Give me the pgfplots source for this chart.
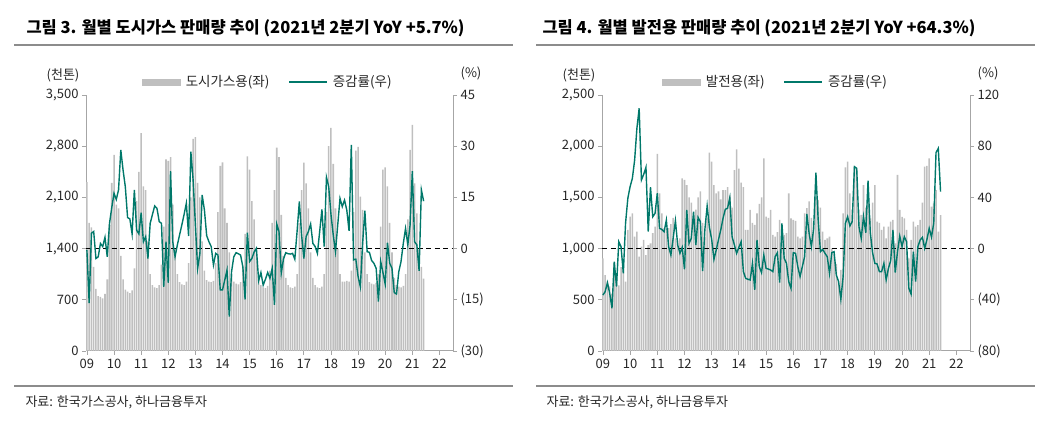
\documentclass[border=0pt]{standalone}
\usepackage{pgfplots}
\pgfplotsset{compat=1.18}
\usepackage{pgfplotstable}
\usepackage{fontspec}
\setmainfont{Noto Sans CJK KR}
\definecolor{barg}{HTML}{BFBFBF}
\definecolor{teal2}{HTML}{00786A}
\definecolor{axg}{HTML}{A6A6A6}
\definecolor{txt}{HTML}{262626}
\definecolor{rule}{HTML}{8C8C8C}

\pgfplotstableread{
i bar yoy
0 2310 -0.4
1 1750 -16
2 1690 4.5
3 1150 5
4 850 -2.9
5 750 -2.4
6 740 1.5
7 720 0.6
8 780 3.3
9 980 -2.4
10 1720 7.4
11 2300 12
12 2680 16.2
13 2000 14.4
14 1950 17.2
15 1300 28.9
16 980 23
17 840 18.1
18 810 9.1
19 790 8.7
20 830 4.3
21 1130 17.2
22 2050 5.4
23 2450 4.3
24 2980 10.5
25 2250 2.0
26 2200 3.5
27 1500 -2.9
28 1050 7.4
29 900 10
30 870 12.5
31 860 11.8
32 900 7.9
33 1180 7.4
34 1700 -11.2
35 2620 2.0
36 2600 -10.0
37 2650 22.7
38 2000 2.0
39 1400 -2.4
40 1050 1
41 940 4
42 910 6.9
43 900 10
44 950 13.3
45 1200 3.7
46 2100 28.4
47 2900 20.1
48 2925 7
49 2300 -5.8
50 2100 -1.4
51 1500 15.7
52 1100 11.3
53 970 3.8
54 950 2
55 940 0.6
56 960 -4.8
57 1200 -1.4
58 1900 -1.9
59 2530 -12.1
60 2580 -12.1
61 1950 -9.2
62 1750 -6.3
63 1350 -19.9
64 1050 -6.8
65 950 -2.4
66 920 -1.2
67 910 -1.5
68 940 -1.9
69 1150 -5.3
70 1600 -14.9
71 2660 4.7
72 2480 -3.8
73 2050 -2.9
74 1800 -1
75 1350 0.1
76 1000 -9.4
77 900 -7.0
78 870 -10.7
79 860 -9
80 890 -7.0
81 1100 -8.7
82 1750 -5.8
83 2200 -16.5
84 2780 7.2
85 2650 5.0
86 1860 -7.2
87 1300 -3
88 1000 -1.2
89 900 -1.5
90 870 -1.6
91 860 -1.4
92 880 -3.1
93 1050 5
94 1750 13.8
95 2200 4
96 2575 -2.9
97 2290 3.5
98 1950 5
99 1350 7.2
100 1000 1.5
101 900 0.6
102 870 -1.4
103 860 5
104 880 11.5
105 1050 0.6
106 1900 20.9
107 2800 18.1
108 3050 10
109 2560 4
110 1950 -0.9
111 1400 7
112 1050 14.7
113 950 12.3
114 950 14.2
115 960 11.3
116 950 5.2
117 1100 30.4
118 1900 -3.3
119 2740 -3.1
120 2790 -8.2
121 2110 -11.2
122 1930 1.5
123 1350 11.1
124 1050 -0.9
125 940 -1.1
126 920 -3.5
127 910 -4.3
128 930 -5.8
129 1050 -15.5
130 1700 -3.8
131 2480 -7
132 2510 -10.4
133 2250 1.7
134 1750 -4.3
135 1350 -5.8
136 1000 -12.9
137 900 -13.3
138 880 -6.8
139 870 -3.8
140 890 1.5
141 1050 5.9
142 1800 1.1
143 2750 6.9
144 3090 22.7
145 2290 2.0
146 1880 1.1
147 1400 -6.5
148 1150 17.2
149 990 13.9
}\gasdata

\pgfplotstableread{
i bar yoy
0 905 -36.3
1 742 -33.6
2 680 -26.6
3 630 -34.9
4 560 -46.7
5 856 -10.2
6 760 -29.7
7 640 5.4
8 820 1.5
9 856 -19.3
10 677 20
11 1182 39.3
12 1312 48.4
13 1345 54.9
14 1117 69.2
15 1166 94.0
16 921 109.6
17 1020 53.6
18 1085 58
19 937 63.5
20 1035 13.2
21 1052 47.9
22 1150 24.9
23 1214 27.5
24 1924 43.2
25 1540 15.8
26 1345 15.0
27 1200 13.2
28 1195 22.3
29 1200 1.5
30 1240 -5.0
31 1300 8
32 1100 21.8
33 1080 2.8
34 1100 -3.7
35 1686 1.0
36 1670 -16.2
37 1620 30.2
38 1500 4.1
39 1450 8.0
40 1300 28.8
41 1380 2.8
42 1500 24.4
43 1560 21.0
44 1250 -17.5
45 1117 15
46 1300 33.3
47 1937 16.6
48 1850 7.2
49 1620 -8.4
50 1540 -1.1
51 1560 7
52 1480 14.5
53 1570 23.6
54 1570 30.7
55 1600 31.5
56 1520 39.8
57 1400 9.3
58 1767 3
59 1970 -3.7
60 1780 1
61 1645 5.4
62 1600 -18.0
63 1182 -23.2
64 1182 -24
65 1377 -24.5
66 1250 -11.5
67 1231 -32.3
68 1345 6.7
69 1436 -14.1
70 1500 -18.8
71 1881 -5.0
72 1312 -15.4
73 1300 -16
74 1377 -16.7
75 1133 -18.0
76 1117 -6.3
77 1160 -3.2
78 1280 -26.6
79 1150 19.7
80 1133 -7.6
81 1150 -11.5
82 1540 -25.8
83 1296 -31.0
84 1280 -3.2
85 1270 -3.7
86 1117 -14.1
87 1100 -21.9
88 1117 -14.1
89 1345 -6.3
90 1394 27.0
91 1460 11.9
92 1300 1.5
93 1250 15.8
94 1507 59.3
95 1475 22.3
96 1400 -2.4
97 1166 -0.6
98 1085 -3.7
99 1100 -6.3
100 1117 -19.3
101 1000 -3.2
102 950 -2.4
103 850 -20.6
104 677 -25.8
105 791 -39.6
106 1345 -21.9
107 1794 19.7
108 1849 24.9
109 1540 17.7
110 1377 21.0
111 1800 64.0
112 1780 62.7
113 1377 17.1
114 1330 8.0
115 1621 24.9
116 1400 12.4
117 1523 53.1
118 1296 12.4
119 1450 -3.2
120 1621 -11.5
121 1263 -12.0
122 1250 -18.0
123 1182 -18.0
124 1214 -11.5
125 1100 -24.5
126 1214 -15.4
127 1263 -9.4
128 1280 14.5
129 1052 -18.8
130 1719 -2.4
131 1377 9.8
132 1310 1.5
133 1296 9.3
134 1182 5.4
135 905 -31.0
136 1085 -35.5
137 1263 -2.4
138 1214 -25.8
139 1230 1.5
140 1280 6.7
141 1450 8.8
142 1800 0.2
143 1807 7.2
144 1882 15.8
145 1410 9
146 1442 20
147 1572 75
148 1165 78.3
149 1328 44.5
}\powdata

\pgfplotsset{
  base/.style={
    scale only axis, height=256pt, xmin=-0.4, xmax=162, anchor=south west,
    tick align=outside, major tick length=4pt,
    every tick/.style={axg, line width=0.8pt},
    axis line style={axg, line width=1pt},
    ticklabel style={font=\fontsize{13}{13}\selectfont, text=txt},
    /pgf/number format/assume math mode=true,
    /pgf/number format/1000 sep={,},
    clip=true,
  },
  barax/.style={base, ybar, bar width=0.68,
    axis x line*=bottom, axis y line*=left,
    xtick={0,12,...,156},
    xticklabels={09,10,11,12,13,14,15,16,17,18,19,20,21,22},
    xticklabel style={yshift=-1pt},
  },
  lineax/.style={base, axis y line*=right, axis x line=none,
    legend style={draw=none, fill=none, legend columns=2, anchor=center,
      font=\fontsize{13.5}{13.5}\selectfont, text=txt, inner sep=0pt,
      nodes={inner xsep=5pt},
      /tikz/every even column/.append style={column sep=14pt}},
  },
  barleg/.style={legend image code/.code={\fill[barg] (0pt,-3pt) rectangle (38pt,3pt);}},
  lineleg/.style={legend image code/.code={\draw[teal2,line width=1.4pt] (0pt,0pt) -- (38pt,0pt);}},
}

\begin{document}
\begin{tikzpicture}
\path[use as bounding box] (0pt,0pt) rectangle (1054pt,443pt);

% ---------- left chart ----------
\node[anchor=west, font=\fontsize{16.5}{16.5}\selectfont\bfseries, text=black] at (23pt,415pt)
  {그림 3. 월별 도시가스 판매량 추이 (2021년 2분기 YoY +5.7\%)};
\draw[rule, line width=1.3pt] (14pt,398pt) -- (513pt,398pt);
\draw[rule, line width=1.3pt] (14pt,57pt) -- (513pt,57pt);
\node[anchor=west, font=\fontsize{13}{13}\selectfont, text=txt] at (22pt,41pt) {자료: 한국가스공사, 하나금융투자};
\node[font=\fontsize{13}{13}\selectfont, text=txt] at (63pt,368pt) {(천톤)};
\node[font=\fontsize{13}{13}\selectfont, text=txt] at (471pt,370pt) {(\%)};

\begin{axis}[barax, at={(86pt,92pt)}, width=367pt,
  ymin=0, ymax=3500, ytick={0,700,...,3500}]
\addplot[fill=barg, draw=none] table[x=i,y=bar]{\gasdata};
\end{axis}
\begin{axis}[lineax, at={(86pt,92pt)}, width=367pt,
  ymin=-30, ymax=45, ytick={-30,-15,0,15,30,45},
  yticklabels={(30),(15),0,15,30,45},
  legend style={at={(0.5,1.051)}}]
\addlegendimage{barleg}
\addlegendentry{도시가스용(좌)}
\addplot[black, line width=1.2pt, dash pattern=on 5pt off 3.5pt, forget plot] coordinates {(-0.4,0) (162,0)};
\addplot[teal2, line width=1.4pt, lineleg] table[x=i,y=yoy]{\gasdata};
\addlegendentry{증감률(우)}
\end{axis}

% ---------- right chart ----------
\node[anchor=west, font=\fontsize{16.5}{16.5}\selectfont\bfseries, text=black] at (539pt,415pt)
  {그림 4. 월별 발전용 판매량 추이 (2021년 2분기 YoY +64.3\%)};
\draw[rule, line width=1.3pt] (536pt,398pt) -- (1035pt,398pt);
\draw[rule, line width=1.3pt] (536pt,57pt) -- (1035pt,57pt);
\node[anchor=west, font=\fontsize{13}{13}\selectfont, text=txt] at (543pt,41pt) {자료: 한국가스공사, 하나금융투자};
\node[font=\fontsize{13}{13}\selectfont, text=txt] at (579pt,368pt) {(천톤)};
\node[font=\fontsize{13}{13}\selectfont, text=txt] at (988pt,370pt) {(\%)};

\begin{axis}[barax, at={(602pt,92pt)}, width=368pt,
  ymin=0, ymax=2500, ytick={0,500,...,2500}]
\addplot[fill=barg, draw=none] table[x=i,y=bar]{\powdata};
\end{axis}
\begin{axis}[lineax, at={(602pt,92pt)}, width=368pt,
  ymin=-80, ymax=120, ytick={-80,-40,0,40,80,120},
  yticklabels={(80),(40),0,40,80,120},
  legend style={at={(0.476,1.051)}}]
\addlegendimage{barleg}
\addlegendentry{발전용(좌)}
\addplot[black, line width=1.2pt, dash pattern=on 5pt off 3.5pt, forget plot] coordinates {(-0.4,0) (162,0)};
\addplot[teal2, line width=1.4pt, lineleg] table[x=i,y=yoy]{\powdata};
\addlegendentry{증감률(우)}
\end{axis}
\end{tikzpicture}
\end{document}
